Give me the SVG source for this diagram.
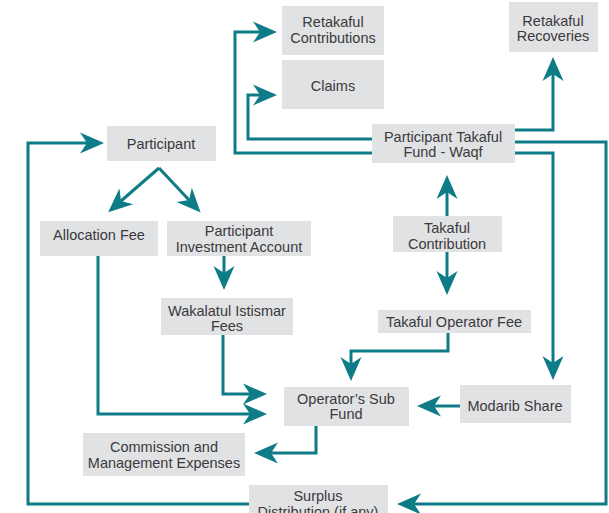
<svg xmlns="http://www.w3.org/2000/svg" width="609" height="513" viewBox="0 0 609 513">
<defs>
<marker id="ah" markerUnits="userSpaceOnUse" markerWidth="30" markerHeight="30" refX="0" refY="0" orient="auto" overflow="visible">
<path d="M17,0 L-7,-10.5 L0,0 L-7,10.5 Z" fill="#0e7c87"/>
</marker>
<style>
.box{fill:#e1e2e4}
.t{font-family:"Liberation Sans",Arial,sans-serif;font-size:14.5px;fill:#3a3a3c;text-anchor:middle}
.c{fill:none;stroke:#0e7c87;stroke-width:3;marker-end:url(#ah)}
</style>
</defs>
<rect width="609" height="513" fill="#ffffff"/>
<g id="connectors">
<path class="c" d="M372,153 H235 V32 H260"/>
<path class="c" d="M372,139 H248 V95 H260"/>
<path class="c" d="M515,130 H553 V74"/>
<path class="c" d="M515,142 H606 V504 H414"/>
<path class="c" d="M515,153 H553 V363"/>
<path class="c" d="M249,504 H28 V143 H87"/>
<path class="c" d="M159,168 L121,201"/>
<path class="c" d="M159,168 L189,200"/>
<path class="c" d="M98,256 V414 H250"/>
<path class="c" d="M224,256 V273"/>
<path class="c" d="M223,335 V394 H250"/>
<path class="c" d="M447,216 V192"/>
<path class="c" d="M447,252 V278"/>
<path class="c" d="M448,333 V351 H351 V364"/>
<path class="c" d="M460,406 H434"/>
<path class="c" d="M316,426 V453 H271"/>
</g>
<g id="retakaful-contributions"><rect class="box" x="282" y="6" width="102" height="49"/><text class="t" x="333" y="27">Retakaful</text><text class="t" x="333" y="43">Contributions</text></g>
<g id="claims"><rect class="box" x="282" y="60" width="102" height="49"/><text class="t" x="333" y="91">Claims</text></g>
<g id="retakaful-recoveries"><rect class="box" x="509" y="2" width="89" height="50"/><text class="t" x="553" y="26">Retakaful</text><text class="t" x="553" y="41">Recoveries</text></g>
<g id="ptf"><rect class="box" x="372" y="124" width="143" height="39"/><text class="t" x="443" y="142">Participant Takaful</text><text class="t" x="443" y="157">Fund - Waqf</text></g>
<g id="participant"><rect class="box" x="107" y="126" width="109" height="35"/><text class="t" x="161" y="149">Participant</text></g>
<g id="allocation-fee"><rect class="box" x="40" y="221" width="118" height="35"/><text class="t" x="99" y="240">Allocation Fee</text></g>
<g id="pia"><rect class="box" x="167" y="221" width="144" height="35"/><text class="t" x="239" y="236">Participant</text><text class="t" x="239" y="252">Investment Account</text></g>
<g id="takaful-contribution"><rect class="box" x="393" y="216" width="109" height="36"/><text class="t" x="447" y="233">Takaful</text><text class="t" x="447" y="249">Contribution</text></g>
<g id="takaful-operator-fee"><rect class="box" x="378" y="310" width="153" height="23"/><text class="t" x="454" y="327">Takaful Operator Fee</text></g>
<g id="wakalatul"><rect class="box" x="161" y="298" width="132" height="37"/><text class="t" x="227" y="316">Wakalatul Istismar</text><text class="t" x="227" y="331">Fees</text></g>
<g id="operators-sub-fund"><rect class="box" x="284" y="387" width="125" height="39"/><text class="t" x="346" y="404">Operator’s Sub</text><text class="t" x="346" y="419">Fund</text></g>
<g id="modarib-share"><rect class="box" x="460" y="385" width="111" height="38"/><text class="t" x="515" y="411">Modarib Share</text></g>
<g id="commission"><rect class="box" x="83" y="433" width="162" height="43"/><text class="t" x="164" y="452">Commission and</text><text class="t" x="164" y="468">Management Expenses</text></g>
<g id="surplus"><rect class="box" x="249" y="485" width="139" height="35"/><text class="t" x="318" y="501">Surplus</text><text class="t" x="318" y="517">Distribution (if any)</text></g>
</svg>
